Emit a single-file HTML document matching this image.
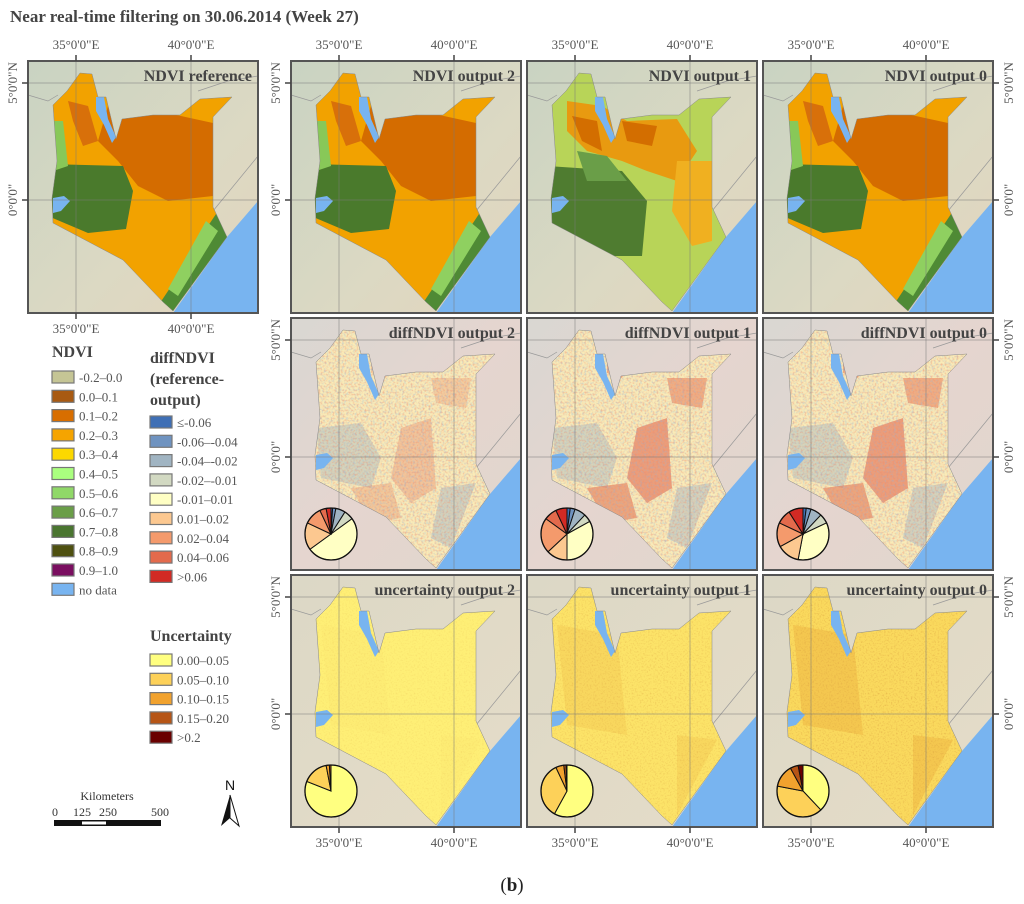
<!DOCTYPE html>
<html><head><meta charset="utf-8"><style>
html,body{margin:0;padding:0;background:#fff;}
svg{display:block;font-family:"Liberation Serif",serif;}
</style></head><body>
<svg id="fig" width="1024" height="904" viewBox="0 0 1024 904" xmlns="http://www.w3.org/2000/svg">
<defs>
<linearGradient id="bg1" x1="0" y1="0" x2="1" y2="1"><stop offset="0" stop-color="#c9d3c2"/><stop offset="0.6" stop-color="#dcd9c3"/><stop offset="1" stop-color="#e3d4bd"/></linearGradient>
<linearGradient id="bg2" x1="0" y1="0" x2="1" y2="1"><stop offset="0" stop-color="#d9d7d2"/><stop offset="0.5" stop-color="#e5d5cf"/><stop offset="1" stop-color="#e0d6cc"/></linearGradient>
<linearGradient id="bg3" x1="0" y1="0" x2="1" y2="1"><stop offset="0" stop-color="#dcd8c6"/><stop offset="1" stop-color="#e5dcc8"/></linearGradient>
<filter id="noise" x="0" y="0" width="100%" height="100%"><feTurbulence type="fractalNoise" baseFrequency="0.5" numOctaves="2" seed="3"/><feColorMatrix type="matrix" values="0 0 0 0 0.85  0 0 0 0 0.25  0 0 0 0 0.15  0 0 0 -1.8 1.0"/><feComposite in2="SourceGraphic" operator="in"/></filter>
<filter id="noiseB" x="0" y="0" width="100%" height="100%"><feTurbulence type="fractalNoise" baseFrequency="0.45" numOctaves="2" seed="9"/><feColorMatrix type="matrix" values="0 0 0 0 0.25  0 0 0 0 0.45  0 0 0 0 0.75  0 0 0 -2 1.05"/><feComposite in2="SourceGraphic" operator="in"/></filter>
<filter id="noiseU" x="0" y="0" width="100%" height="100%"><feTurbulence type="fractalNoise" baseFrequency="0.6" numOctaves="2" seed="5"/><feColorMatrix type="matrix" values="0 0 0 0 0.7  0 0 0 0 0.35  0 0 0 0 0.05  0 0 0 -2 1.0"/><feComposite in2="SourceGraphic" operator="in"/></filter>
</defs>
<text x="10" y="22" font-size="17" font-weight="bold" fill="#444">Near real-time filtering on 30.06.2014 (Week 27)</text>
<g id="panels"></g>
<g id="legend"></g>
<text x="512" y="891" font-size="19" text-anchor="middle" fill="#222">(<tspan font-weight="bold">b</tspan>)</text>
</svg>
<script>
// ----- chart data -----
const ndviLabels = ["-0.2\u20130.0","0.0\u20130.1","0.1\u20130.2","0.2\u20130.3","0.3\u20130.4","0.4\u20130.5","0.5\u20130.6","0.6\u20130.7","0.7\u20130.8","0.8\u20130.9","0.9\u20131.0","no data"];
const ndviColors = ["#c5c595","#a85a12","#d86e00","#f5a400","#fcd800","#aaff7f","#90d868","#6a9e48","#4a7530","#4e5010","#7a0e60","#78b4f0"];
const diffLabels = ["\u2264-0.06","-0.06\u2013-0.04","-0.04\u2013-0.02","-0.02\u2013-0.01","-0.01\u20130.01","0.01\u20130.02","0.02\u20130.04","0.04\u20130.06",">0.06"];
const diffColors = ["#3f6fb5","#6f93c0","#a0b4c2","#d2d9c2","#ffffc4","#fcc890","#f49a6c","#e36a4c","#d22a24"];
const uncLabels = ["0.00\u20130.05","0.05\u20130.10","0.10\u20130.15","0.15\u20130.20",">0.2"];
const uncColors = ["#ffff80","#fdd159","#f1a22e","#b65516","#6a0000"];
// pie shares (percent), clockwise from top
const diffPieOut2 = [1,2,6,6,50,17,11,4,3];
const diffPieOut1 = [2,3,7,5,33,13,22,8,7];
const diffPieOut0 = [2,3,7,6,35,14,15,9,9];
const uncPieOut2 = [81,16,2,1,0];
const uncPieOut1 = [58,35,5,1.5,0.5];
const uncPieOut0 = [38,40,14,5,3];
const lonTicks = ["35\u00b00'0\"E","40\u00b00'0\"E"];
const latTicks = ["5\u00b00'0\"N","0\u00b00'0\""];

const NS="http://www.w3.org/2000/svg";
function mk(tag,attrs,parent){const e=document.createElementNS(NS,tag);for(const k in attrs)e.setAttribute(k,attrs[k]);if(parent)parent.appendChild(e);return e;}
const P=document.getElementById('panels');
const cols=[28,291,527,763], rows=[61,318,575], W=230, H=252;
const lonX=[48,163], latY=[22,139];
const kenya="M52,12 L64,13 L70,36 L78,36 L88,78 L94,58 L125,54 L152,54 L172,38 L204,36 L185,56 L185,146 L199,176 L145,250 L135,241 L95,199 L25,162 L24,137 L29,100 L25,44 L39,30 Z";
const lake="M68,36 L76,36 L80,58 L88,76 L84,82 L76,64 L68,50 Z";
const lakeV="M25,137 L36,135 L42,140 L33,150 L25,152 Z";
const ocean="M230,140 L199,176 L145,252 L230,252 Z";
const titles=[["NDVI reference","NDVI output 2","NDVI output 1","NDVI output 0"],
[null,"diffNDVI output 2","diffNDVI output 1","diffNDVI output 0"],
[null,"uncertainty output 2","uncertainty output 1","uncertainty output 0"]];
const diffPies=[null,diffPieOut2,diffPieOut1,diffPieOut0];
const uncPies=[null,uncPieOut2,uncPieOut1,uncPieOut0];

function drawPie(g,cx,cy,r,vals,colors){
  const tot=vals.reduce((a,b)=>a+b,0);let a0=-Math.PI/2;
  mk('circle',{cx,cy,r,fill:'#fff'},g);
  vals.forEach((v,i)=>{if(v<=0)return;const a1=a0+v/tot*2*Math.PI;
    const x0=cx+r*Math.cos(a0),y0=cy+r*Math.sin(a0),x1=cx+r*Math.cos(a1),y1=cy+r*Math.sin(a1);
    const s=mk('path',{d:`M${cx},${cy} L${x0},${y0} A${r},${r} 0 ${(a1-a0)>Math.PI?1:0} 1 ${x1},${y1} Z`,fill:colors[i],stroke:'#111','stroke-width':1},g);
    
    
    a0=a1;});
  mk('circle',{cx,cy,r,fill:'none',stroke:'#111','stroke-width':1.3},g);
}

rows.forEach((ry,ri)=>{cols.forEach((cx,ci)=>{
  if(ri>0&&ci===0)return;
  const g=mk('g',{transform:`translate(${cx},${ry})`},P);
  
  
  const cid=`clip${ri}${ci}`;
  const cp=mk('clipPath',{id:cid},g);mk('path',{d:kenya},cp);
  mk('rect',{x:0,y:0,width:W,height:H,fill:`url(#bg${ri+1})`},g);
  mk('path',{d:"M0,34 L20,40 L30,34 M170,30 L200,20 L230,15 M185,150 L230,95",fill:'none',stroke:'#999','stroke-width':0.7},g);
  mk('path',{d:ocean,fill:'#78b4f0'},g);
  const k=mk('g',{'clip-path':`url(#${cid})`},g);
  if(ri===0){
    const base = ci===2?'#b8d458':'#f2a200';
    mk('path',{d:kenya,fill:base},k);
    if(ci===2){
      mk('path',{d:"M40,40 L75,45 L100,60 L150,58 L170,90 L150,120 L120,110 L95,100 L60,90 L40,70 Z",fill:'#e89a10'},k);
      mk('path',{d:"M45,55 L70,60 L75,90 L55,80 Z M95,60 L130,65 L125,85 L100,80 Z",fill:'#d36e00'},k);
      mk('path',{d:"M150,100 L185,100 L185,180 L165,185 L145,150 Z",fill:'#f0b020'},k);
      mk('path',{d:"M20,105 L95,110 L120,140 L115,195 L80,195 L20,160 Z",fill:'#4f7c30'},k);
      mk('path',{d:"M50,90 L80,95 L100,120 L60,120 Z",fill:'#6a9e48'},k);
    } else {
      mk('path',{d:"M80,45 L130,50 L185,62 L185,135 L140,140 L110,125 L90,100 L70,80 Z",fill:'#d46c00'},k);
      mk('path',{d:"M40,40 L60,45 L70,80 L55,85 L45,60 Z",fill:'#d8700a'},k);
      mk('path',{d:"M20,103 L95,105 L105,130 L98,168 L60,172 L20,155 Z",fill:'#4a7a2c'},k);
      mk('path',{d:"M24,60 L35,60 L40,105 L25,110 Z",fill:'#88c858'},k);
      mk('path',{d:"M190,150 L205,180 L150,252 L130,245 L160,200 L180,165 Z",fill:'#4f8a35'},k);
      mk('path',{d:"M178,160 L190,170 L150,235 L140,228 Z",fill:'#8fd060'},k);
    }
  } else if(ri===1){
    mk('path',{d:kenya,fill:'#f9ebb8'},k);
    const red = ci===1?0.25:0.5;
    mk('path',{d:"M80,40 L100,48 L95,60 L80,55 Z M140,60 L180,60 L175,90 L145,85 Z",fill:'#e8704c','fill-opacity':red},k);
    mk('path',{d:"M25,110 L70,105 L90,140 L80,170 L30,160 Z",fill:'#8fa8c4','fill-opacity':0.35},k);
    mk('path',{d:"M110,110 L140,100 L145,170 L120,185 L100,160 Z",fill:'#e0503a','fill-opacity':red},k);
    mk('path',{d:"M60,170 L100,165 L110,200 L80,205 Z",fill:'#e06040','fill-opacity':red},k);
    mk('path',{d:"M150,170 L185,165 L160,230 L140,220 Z",fill:'#7a98c8','fill-opacity':0.3},k);
    mk('path',{d:kenya,fill:'#fff',filter:'url(#noise)','fill-opacity':0.7},k);
    mk('path',{d:kenya,fill:'#fff',filter:'url(#noiseB)','fill-opacity':0.5},k);
  } else {
    mk('path',{d:kenya,fill:'#fff27a'},k);
    const op=[0,0.05,0.3,0.5][ci];
    mk('path',{d:kenya,fill:'#f5c040','fill-opacity':op},k);
    mk('path',{d:"M30,50 L90,60 L100,160 L40,150 Z M150,160 L190,165 L150,240 Z",fill:'#e8a030','fill-opacity':op*0.6},k);
    mk('path',{d:kenya,fill:'#fff',filter:'url(#noiseU)','fill-opacity':[0,0.25,0.5,0.7][ci]},k);
  }
  mk('path',{d:lake,fill:'#78b4f0'},g);
  mk('path',{d:lakeV,fill:'#78b4f0'},g);
  mk('path',{d:kenya,fill:'none',stroke:'#888','stroke-width':0.5},g);
  lonX.forEach(x=>mk('line',{x1:x,y1:0,x2:x,y2:H,stroke:'#777','stroke-opacity':0.5,'stroke-width':1},g));
  latY.forEach(y=>mk('line',{x1:0,y1:y,x2:W,y2:y,stroke:'#777','stroke-opacity':0.5,'stroke-width':1},g));
  if(ri===1) drawPie(g,40,216,26,diffPies[ci],diffColors);
  if(ri===2) drawPie(g,40,216,26,uncPies[ci],uncColors);
  const t=mk('text',{x:W-6,y:20,'text-anchor':'end','font-size':16,'font-weight':'bold',fill:'#444'},g);
  t.textContent=titles[ri][ci];
  
  
  mk('rect',{x:0,y:0,width:W,height:H,fill:'none',stroke:'#555','stroke-width':2},g);
  const topLab = ri===0, botLab=(ri===2)||(ri===0&&ci===0), leftLab=(ci<=1), rightLab=(ci===3);
  lonX.forEach((x,i)=>{
    if(topLab){mk('line',{x1:x,y1:-6,x2:x,y2:0,stroke:'#444','stroke-width':1.5},g);
      const l=mk('text',{x,y:-12,'text-anchor':'middle','font-size':13,fill:'#555'},g);l.textContent=lonTicks[i];
      }
    if(botLab){mk('line',{x1:x,y1:H,x2:x,y2:H+6,stroke:'#444','stroke-width':1.5},g);
      const l=mk('text',{x,y:H+20,'text-anchor':'middle','font-size':13,fill:'#555'},g);l.textContent=lonTicks[i];
      }
  });
  latY.forEach((y,i)=>{
    if(leftLab){mk('line',{x1:-6,y1:y,x2:0,y2:y,stroke:'#444','stroke-width':1.5},g);
      const l=mk('text',{x:0,y:0,transform:`translate(-11,${y}) rotate(-90)`,'text-anchor':'middle','font-size':13,fill:'#555'},g);l.textContent=latTicks[i];
      }
    if(rightLab){mk('line',{x1:W,y1:y,x2:W+6,y2:y,stroke:'#444','stroke-width':1.5},g);
      const l=mk('text',{x:0,y:0,transform:`translate(${W+20},${y}) rotate(-90)`,'text-anchor':'middle','font-size':13,fill:'#555'},g);l.textContent=latTicks[i];
      }
  });
});});

const L=document.getElementById('legend');
function legend(x,y0,labels,colors,name){
  labels.forEach((lab,i)=>{const y=y0+i*19.3;
    const r=mk('rect',{x,y,width:22,height:12,fill:colors[i],stroke:'#777','stroke-width':1.2},L);
    
    const t=mk('text',{x:x+27,y:y+11,'font-size':13,fill:'#555'},L);t.textContent=lab;
    });
}
function title(x,y,txt,name){const t=mk('text',{x,y,'font-size':16,'font-weight':'bold',fill:'#444'},L);t.textContent=txt;}
title(52,357,"NDVI","ndvi-legend-title");
legend(52,371,ndviLabels,ndviColors,"ndvi-legend");
title(150,363,"diffNDVI","diff-legend-title");
title(150,384,"(reference-","diff-legend-title-2");
title(150,405,"output)","diff-legend-title-3");
legend(150,416,diffLabels,diffColors,"diff-legend");
title(150,641,"Uncertainty","uncertainty-legend-title");
legend(150,654,uncLabels,uncColors,"uncertainty-legend");
const sb=mk('g',{},L);
mk('text',{x:107,y:800,'text-anchor':'middle','font-size':12,fill:'#333'},sb).textContent="Kilometers";
[["0",55],["125",82],["250",108],["500",160]].forEach(([s,x])=>{mk('text',{x,y:816,'text-anchor':'middle','font-size':12,fill:'#333'},sb).textContent=s;});
mk('rect',{x:54,y:820,width:107,height:6,fill:'#111'},sb);
mk('rect',{x:82,y:821.5,width:24,height:3,fill:'#fff'},sb);
const na=mk('g',{},L);
mk('text',{x:230,y:790,'text-anchor':'middle','font-size':14,'font-family':'Liberation Sans, sans-serif',fill:'#111'},na).textContent="N";
mk('path',{d:"M230,795 L221,826 L230,818 Z",fill:'#111'},na);
mk('path',{d:"M230,795 L239,826 L230,818 Z",fill:'#fff',stroke:'#111','stroke-width':1},na);
</script>
</body></html>
